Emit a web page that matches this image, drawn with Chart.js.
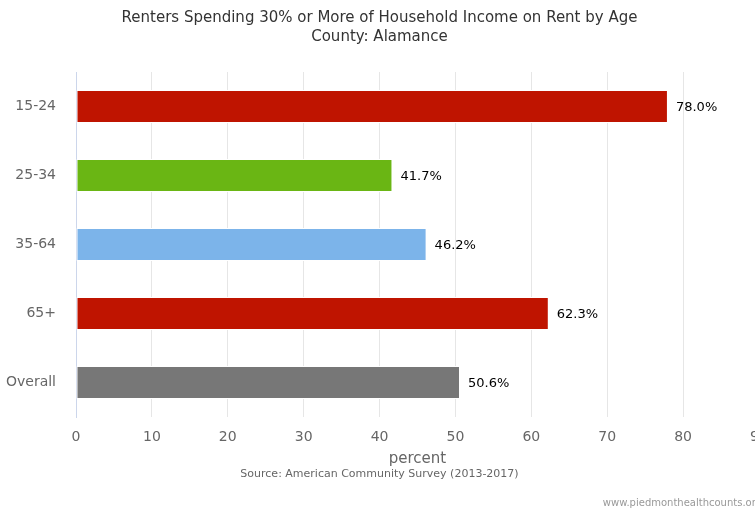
<!DOCTYPE html>
<html>
<head>
<meta charset="utf-8">
<script src="https://cdn.jsdelivr.net/npm/chart.js@4.4.1/dist/chart.umd.min.js"></script>
<style>
  html, body { margin: 0; padding: 0; background: #fff; overflow: hidden; }
  #wrap { position: relative; width: 759px; height: 512px; }
</style>
</head>
<body>
<div id="wrap"><canvas id="rentChart"></canvas></div>
<script>
const ageGroups = ['15-24', '25-34', '35-64', '65+', 'Overall'];
const rentBurden = [78.0, 41.7, 46.2, 62.3, 50.6];
const barColors = ['#bf1400', '#6ab614', '#7cb4ea', '#bf1400', '#777777'];
const xTicks = [0, 10, 20, 30, 40, 50, 60, 70, 80, 90];

const FONT = '"DejaVu Sans", "Noto Sans", sans-serif';

// value label at the end of each bar
const barLabels = {
  id: 'barLabels',
  afterDatasetsDraw(chart) {
    const ctx = chart.ctx;
    const meta = chart.getDatasetMeta(0);
    ctx.save();
    ctx.font = '13px ' + FONT;
    ctx.fillStyle = '#000';
    ctx.textAlign = 'left';
    ctx.textBaseline = 'middle';
    meta.data.forEach((bar, i) => {
      ctx.fillText(rentBurden[i].toFixed(1) + '%', bar.x + 8, bar.y + 1);
    });
    ctx.restore();
  }
};

// site credit in the lower right corner
const credit = {
  id: 'credit',
  afterDraw(chart) {
    const ctx = chart.ctx;
    ctx.save();
    ctx.font = '10px ' + FONT;
    ctx.fillStyle = '#999';
    ctx.textAlign = 'right';
    ctx.textBaseline = 'middle';
    ctx.fillText('www.piedmonthealthcounts.org', 762, 503);
    ctx.restore();
  }
};

const ctx = document.getElementById('rentChart').getContext('2d');
const rentChart = new Chart(ctx, {
  type: 'bar',
  data: {
    labels: ageGroups,
    datasets: [{
      data: rentBurden,
      backgroundColor: barColors,
      borderColor: '#ffffff',
      borderWidth: 1,
      borderSkipped: false,
      barPercentage: 0.48,
      categoryPercentage: 1
    }]
  },
  options: {
    indexAxis: 'y',
    responsive: true,
    maintainAspectRatio: false,
    animation: false,
    layout: { padding: { left: 0, right: 0, top: 8, bottom: 31 } },
    plugins: {
      legend: { display: false },
      tooltip: { enabled: false },
      title: {
        display: true,
        text: ['Renters Spending 30% or More of Household Income on Rent by Age', 'County: Alamance'],
        color: '#333',
        font: { family: FONT, size: 15, weight: 'normal', lineHeight: 1.3 },
        padding: { top: 0, bottom: 25 }
      },
      subtitle: {
        display: true,
        position: 'bottom',
        text: 'Source: American Community Survey (2013-2017)',
        color: '#666',
        font: { family: FONT, size: 11, weight: 'normal' },
        padding: { top: 0, bottom: 0 }
      }
    },
    scales: {
      x: {
        min: 0,
        max: 90,
        afterBuildTicks(scale) {
          scale.ticks = xTicks.map(v => ({ value: v }));
        },
        afterFit(scale) {
          scale.paddingLeft = 0;
          scale.paddingRight = 0;
        },
        grid: { color: '#e6e6e6', drawTicks: false },
        border: { display: false },
        ticks: {
          color: '#666',
          padding: 12,
          font: { family: FONT, size: 14 }
        },
        title: {
          display: true,
          text: 'percent',
          color: '#666',
          font: { family: FONT, size: 15 },
          padding: { top: -8, bottom: 0 }
        }
      },
      y: {
        afterFit(scale) {
          scale.width = 76;
        },
        grid: { display: false, drawTicks: false },
        border: { display: true, color: '#ccd6eb', width: 1 },
        ticks: {
          color: '#666',
          padding: 20,
          font: { family: FONT, size: 14 }
        }
      }
    }
  },
  plugins: [barLabels, credit]
});
</script>
</body>
</html>
